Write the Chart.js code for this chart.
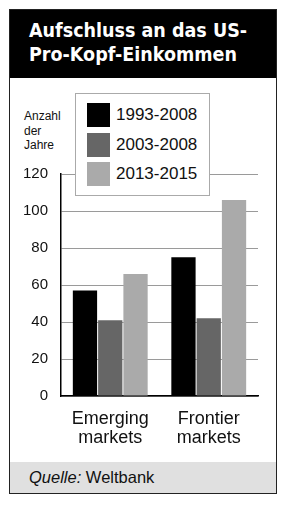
<!DOCTYPE html>
<html lang="de">
<head>
  <meta charset="UTF-8" />
  <title>Aufschluss an das US-Pro-Kopf-Einkommen</title>
  <script src="https://cdn.jsdelivr.net/npm/chart.js"></script>
  <style>
    body {
      margin: 0;
      background: #fff;
      font-family: "Liberation Sans", Arial, sans-serif;
    }
    .frame {
      position: absolute;
      left: 9px;
      top: 9px;
      width: 266px;
      height: 483px;
      border: 1px solid #222;
      overflow: hidden;
    }
    .head {
      position: absolute;
      left: 0; top: 0;
      width: 266px;
      height: 68px;
      background: #000;
      color: #fff;
      font-family: "DejaVu Sans Condensed", "DejaVu Sans", sans-serif;
      font-stretch: condensed;
      font-weight: bold;
      font-size: 19.5px;
      line-height: 24px;
      padding: 9px 0 0 19px;
      box-sizing: border-box;
    }
    .unit {
      position: absolute;
      left: 14px;
      top: 99px;
      font-size: 12px;
      line-height: 14.5px;
      color: #111;
    }
    .foot {
      position: absolute;
      left: 0; top: 452px;
      width: 266px;
      height: 31px;
      background: #e0e0e0;
      font-size: 16.5px;
      line-height: 31px;
      padding-left: 19px;
      box-sizing: border-box;
      color: #111;
    }
    .legend {
      position: absolute;
      left: 65px;
      top: 83px;
      width: 133px;
      height: 101px;
      border: 1px solid #aaa;
      background: #fff;
      z-index: 2;
    }
    .legend div {
      position: absolute;
      left: 11px;
      font-size: 17px;
      line-height: 24px;
      color: #111;
    }
    .legend span {
      display: inline-block;
      width: 23px;
      height: 24px;
      vertical-align: top;
      margin-right: 6px;
    }
    canvas { position: absolute; left: 0; top: 68px; }
  </style>
</head>
<body>
  <div class="frame">
    <div class="head">Aufschluss an das US-<br>Pro-Kopf-Einkommen</div>
    <div class="unit">Anzahl<br>der<br>Jahre</div>
    <div class="legend" id="legend"></div>
    <canvas id="chart" width="266" height="384"></canvas>
    <div class="foot"><i>Quelle:</i> Weltbank</div>
  </div>

  <script>
    const categories = [['Emerging', 'markets'], ['Frontier', 'markets']];
    const periods = ['1993-2008', '2003-2008', '2013-2015'];
    const values1993 = [57, 75];
    const values2003 = [41, 42];
    const values2013 = [66, 106];
    const colors = ['#000000', '#666666', '#aaaaaa'];
    const yTicks = [0, 20, 40, 60, 80, 100, 120];

    // legend drawn as html box over the plot
    const legend = document.getElementById('legend');
    periods.forEach((p, i) => {
      const row = document.createElement('div');
      row.style.top = (9 + i * 29.5) + 'px';
      row.innerHTML = `<span style="background:${colors[i]}"></span>${p}`;
      legend.appendChild(row);
    });

    const series = [values1993, values2003, values2013];

    new Chart(document.getElementById('chart'), {
      type: 'bar',
      data: {
        labels: categories,
        datasets: series.map((d, i) => ({
          label: periods[i],
          data: d,
          backgroundColor: colors[i],
          categoryPercentage: 0.77,
          barPercentage: 0.96
        }))
      },
      options: {
        responsive: false,
        animation: false,
        layout: { padding: { top: 96, right: 18, left: 0, bottom: 0 } },
        plugins: { legend: { display: false }, tooltip: { enabled: false } },
        scales: {
          x: {
            grid: { display: false },
            border: { display: true, color: '#000', width: 1.5 },
            ticks: {
              color: '#111',
              padding: 5,
              font: { family: 'Liberation Sans', size: 18, lineHeight: 1.07 }
            },
            afterFit: s => { s.height = 66; }
          },
          y: {
            min: 0,
            max: 120,
            afterBuildTicks: s => { s.ticks = yTicks.map(v => ({ value: v })); },
            grid: { color: '#9a9a9a', lineWidth: 1, drawTicks: false },
            border: { display: true, color: '#000', width: 1.5 },
            ticks: {
              color: '#111',
              padding: 13,
              font: { family: 'Liberation Sans', size: 15 }
            },
            afterFit: s => { s.width = 51; }
          }
        }
      }
    });
  </script>
</body>
</html>
